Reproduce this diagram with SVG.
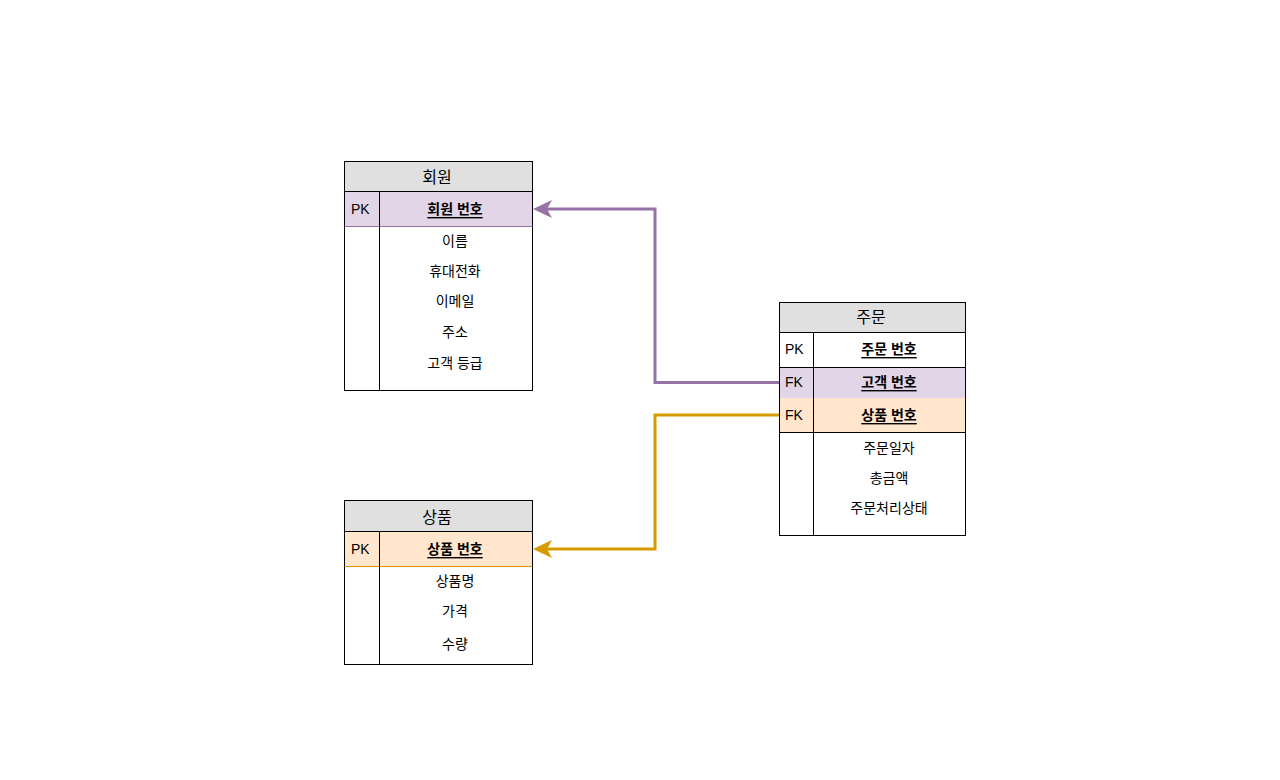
<svg xmlns="http://www.w3.org/2000/svg" width="1280" height="780" viewBox="0 0 1280 780">
<defs>
<style>
text{font-family:"Liberation Sans","Noto Sans CJK KR",sans-serif;font-size:14px;fill:#000;text-anchor:middle;dominant-baseline:central}
.h{font-size:16px}
.k{text-anchor:start}
.u{text-decoration:underline;font-weight:bold}
.box{fill:#fff;stroke:#000;stroke-width:1}
.hd{fill:#e0e0e0;stroke:#000;stroke-width:1}
.pu{fill:#e1d5e7}
.or{fill:#ffe6cc}
.ln{stroke:#000;stroke-width:1;fill:none}
.cp{stroke:#9673a6;stroke-width:3;fill:none}
.co{stroke:#d79b00;stroke-width:3;fill:none}
</style>
</defs>
<rect width="1280" height="780" fill="#fff"/>
<g id="connectors">
<path class="cp" d="M779,382.5 H655 V209 H546"/>
<path d="M533,209 L552,200 L547,209 L552,218 Z" fill="#9673a6"/>
<path class="co" d="M779,415 H655 V549 H546"/>
<path d="M533,549 L552,540 L547,549 L552,558 Z" fill="#d79b00"/>
</g>
<g id="member">
<rect class="box" x="344.5" y="161.5" width="188" height="229"/>
<rect class="hd" x="344.5" y="161.5" width="188" height="30"/>
<rect class="pu" x="345" y="192" width="187" height="34"/>
<line x1="344.5" y1="226.5" x2="532.5" y2="226.5" stroke="#9673a6"/>
<line class="ln" x1="379.5" y1="191.5" x2="379.5" y2="390.5"/>
<text class="h" x="437" y="177">회원</text>
<text class="k" x="351" y="209">PK</text>
<text class="u" x="455" y="209">회원 번호</text>
<text x="455" y="241">이름</text>
<text x="455" y="271">휴대전화</text>
<text x="455" y="301">이메일</text>
<text x="455" y="332">주소</text>
<text x="455" y="363">고객 등급</text>
</g>
<g id="product">
<rect class="box" x="344.5" y="500.5" width="188" height="164"/>
<rect class="hd" x="344.5" y="500.5" width="188" height="31"/>
<rect class="or" x="345" y="532" width="187" height="34"/>
<line x1="344.5" y1="566.5" x2="532.5" y2="566.5" stroke="#d79b00"/>
<line class="ln" x1="379.5" y1="531.5" x2="379.5" y2="664.5"/>
<text class="h" x="437" y="517">상품</text>
<text class="k" x="351" y="549">PK</text>
<text class="u" x="455" y="549">상품 번호</text>
<text x="455" y="581">상품명</text>
<text x="455" y="611">가격</text>
<text x="455" y="644">수량</text>
</g>
<g id="order">
<rect class="box" x="779.5" y="302.5" width="186" height="233"/>
<rect class="hd" x="779.5" y="302.5" width="186" height="30"/>
<rect class="pu" x="780" y="367" width="185" height="31"/>
<rect class="or" x="780" y="398" width="185" height="34"/>
<line class="ln" x1="779.5" y1="367.5" x2="965.5" y2="367.5"/>
<line class="ln" x1="779.5" y1="432.5" x2="965.5" y2="432.5"/>
<line class="ln" x1="813.5" y1="332.5" x2="813.5" y2="535.5"/>
<text class="h" x="871" y="317">주문</text>
<text class="k" x="785" y="349">PK</text>
<text class="u" x="889" y="349">주문 번호</text>
<text class="k" x="785" y="382">FK</text>
<text class="u" x="889" y="382">고객 번호</text>
<text class="k" x="785" y="415">FK</text>
<text class="u" x="889" y="415">상품 번호</text>
<text x="889" y="448">주문일자</text>
<text x="889" y="478">총금액</text>
<text x="889" y="508">주문처리상태</text>
</g>
</svg>
